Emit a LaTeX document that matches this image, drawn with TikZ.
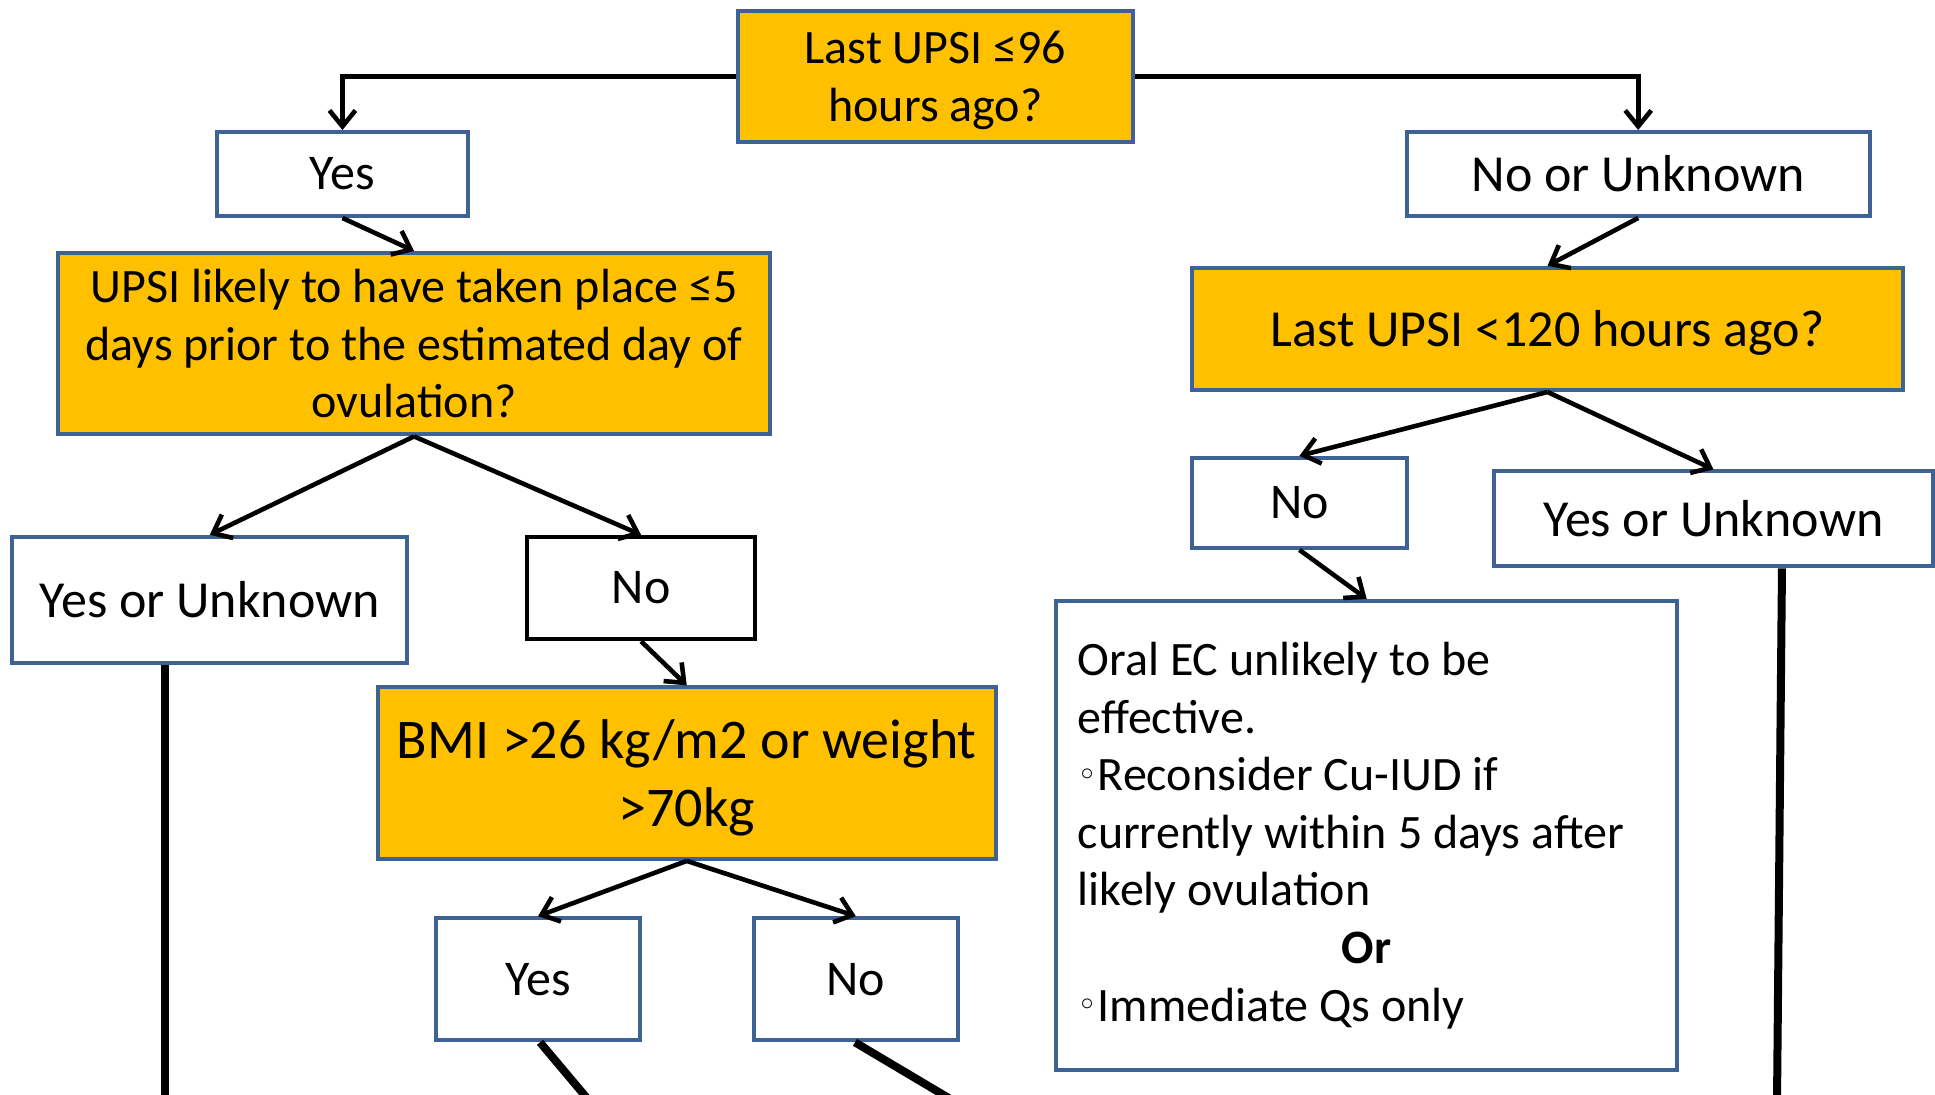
\documentclass[tikz,border=0pt]{standalone}
\usepackage{fontspec}
\setmainfont{Carlito}
\newfontfamily\dejavu{DejaVu Sans}
\usetikzlibrary{arrows.meta,calc}
\definecolor{orangefill}{HTML}{FFC000}
\definecolor{boxblue}{HTML}{3F6294}
\newcommand\wbul{\raisebox{2.2pt}{\fontsize{17}{17}\selectfont\dejavu ◦}}
\tikzset{
  basebox/.style={draw=boxblue, line width=2pt, inner sep=0pt, align=center, text=black},
  qbox/.style={basebox, fill=orangefill},
  abox/.style={basebox, fill=white},
  place/.style n args={4}{minimum width={(#3-#1)*0.61703pt}, minimum height={(#4-#2)*0.61703pt},
     at={({(#1+#3)/2},{(#2+#4)/2})}},
  conn/.style={line width=2.3pt, -{Straight Barb[length=8pt,width=13pt]}},
  heavyline/.style={line width=4pt},
  fa/.style={font=\fontsize{24}{28.8}\selectfont},
  fb/.style={font=\fontsize{26}{31.2}\selectfont},
  fc/.style={font=\fontsize{28}{34}\selectfont},
  fd/.style={font=\fontsize{25}{30}\selectfont}
}
\begin{document}
\begin{tikzpicture}[x=0.61703pt, y=-0.61703pt]
\useasboundingbox (0,0) rectangle (1568,887);
\clip (0,0) rectangle (1568,887);

% nodes
\node[qbox, fa, text depth=0pt, place={598}{9}{918}{115}] (T1) {Last UPSI ≤96\\hours ago?};
\node[abox, fd, place={176}{107}{379}{175}] (Y1) {Yes};
\node[abox, fb, place={1140}{107}{1515}{175}] (NoU) {No or Unknown};
\node[qbox, fa, place={47}{205}{624}{352}] (Q2) {UPSI likely to have taken place ≤5\\days prior to the estimated day of\\ovulation?};
\node[qbox, fb, text depth=0pt, place={966}{217}{1542}{316}] (Q3) {Last UPSI <120 hours ago?};
\node[abox, fb, place={10}{435}{330}{537}] (YU1) {Yes or Unknown};
\node[abox, fd, draw=black, place={427}{435}{612}{518}] (No1) {No};
\node[qbox, fc, text depth=0pt, place={306}{557}{807}{696}] (BMI) {BMI >26 kg/m2 or weight\\>70kg};
\node[abox, fd, place={353}{744}{519}{843}] (Yes2) {Yes};
\node[abox, fd, place={611}{744}{776}{843}] (No2) {No};
\node[abox, fd, place={966}{371}{1140}{444}] (No3) {No};
\node[abox, fb, place={1211}{382}{1566}{459}] (YU3) {Yes or Unknown};
\node[abox, fa, align=flush left, text width=289pt, place={856}{487}{1359}{867}] (Oral)
  {Oral EC unlikely to be\\effective.\\\wbul Reconsider Cu-IUD if\\currently within 5 days after\\likely ovulation\\\leavevmode\hbox to\hsize{\hfil\textbf{Or}\hfil}\\\wbul Immediate Qs only};

% connectors
\draw[conn] (T1.west) -| (Y1.north);
\draw[conn] (T1.east) -| (NoU.north);
\draw[conn] (Y1.south) -- (Q2.north);
\draw[conn] (NoU.south) -- (Q3.north);
\draw[conn] (Q2.south) -- (YU1.north);
\draw[conn] (Q2.south) -- (No1.north);
\draw[conn] (No1.south) -- (BMI.north);
\draw[conn] (BMI.south) -- (Yes2.north);
\draw[conn] (BMI.south) -- (No2.north);
\draw[conn] (Q3.south) -- (No3.north);
\draw[conn] (Q3.south) -- (YU3.north);
\draw[conn] (No3.south) -- (Oral.north);

% lines running off the bottom
\coordinate (e1) at (133.6,900);
\coordinate (e2) at (484.2,900);
\coordinate (e3) at (786,900);
\coordinate (e4) at (1439.9,900);
\draw[heavyline] (e1 |- YU1.south) -- (e1);
\draw[heavyline] ($(Yes2.south)+(1.6,0)$) -- (e2);
\draw[heavyline] ($(No2.south)+(-0.7,0)$) -- (e3);
\draw[heavyline] ($(YU3.south)+(55.5,0)$) -- (e4);
\end{tikzpicture}
\end{document}
